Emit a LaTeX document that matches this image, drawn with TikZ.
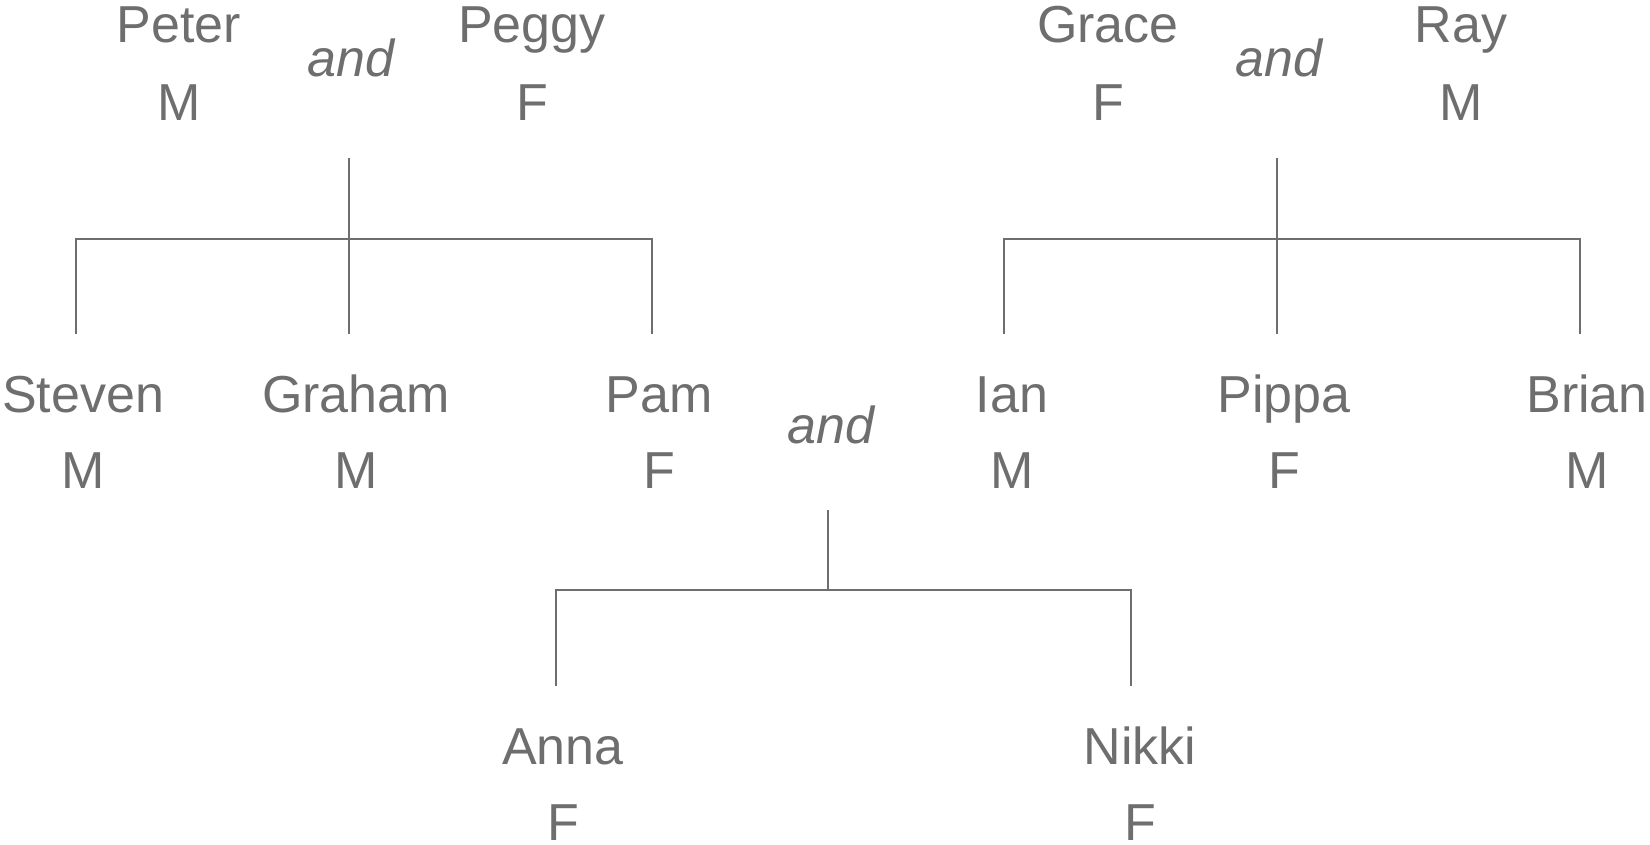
\documentclass[tikz,border=0pt]{standalone}
\usepackage{fontspec}
\setmainfont{Liberation Sans}
\definecolor{ink}{RGB}{110,110,110}
\begin{document}
\begin{tikzpicture}[x=1pt,y=-1pt,
  person/.style={anchor=base,inner sep=0pt,text=ink,font=\fontsize{52}{62}\selectfont},
  union/.style={anchor=base,inner sep=0pt,text=ink,font=\fontsize{52}{62}\selectfont\itshape},
  link/.style={draw=ink,line width=1.8pt}]
\useasboundingbox (0,0) rectangle (1650,845);

% first generation
\node[person] (peter)  at (179,43)  {Peter};
\node[person] (peterS) at (179,121) {M};
\node[union]  (and1)   at (351,77)  {and};
\node[person] (peggy)  at (532,43)  {Peggy};
\node[person] (peggyS) at (532,121) {F};

\node[person] (grace)  at (1108,43)  {Grace};
\node[person] (graceS) at (1108,121) {F};
\node[union]  (and2)   at (1279,77)  {and};
\node[person] (ray)    at (1461,43)  {Ray};
\node[person] (rayS)   at (1461,121) {M};

% second generation
\node[person] (steven)  at (83,412)  {Steven};
\node[person] (stevenS) at (83,488)  {M};
\node[person] (graham)  at (356,412) {Graham};
\node[person] (grahamS) at (356,488) {M};
\node[person] (pam)     at (659,412) {Pam};
\node[person] (pamS)    at (659,488) {F};
\node[union]  (and3)    at (831,443) {and};
\node[person] (ian)     at (1012,412) {Ian};
\node[person] (ianS)    at (1012,488) {M};
\node[person] (pippa)   at (1284,412) {Pippa};
\node[person] (pippaS)  at (1284,488) {F};
\node[person] (brian)   at (1587,412) {Brian};
\node[person] (brianS)  at (1587,488) {M};

% third generation
\node[person] (anna)   at (563,764)  {Anna};
\node[person] (annaS)  at (563,840)  {F};
\node[person] (nikki)  at (1140,764) {Nikki};
\node[person] (nikkiS) at (1140,840) {F};

% junction points of the family brackets
\coordinate (u1) at (349,158);  \coordinate (b1) at (349,239);
\coordinate (c1a) at (76,334);  \coordinate (c1b) at (349,334); \coordinate (c1c) at (652,334);
\coordinate (u2) at (1277,158); \coordinate (b2) at (1277,239);
\coordinate (c2a) at (1004,334); \coordinate (c2b) at (1277,334); \coordinate (c2c) at (1580,334);
\coordinate (u3) at (828,510);  \coordinate (b3) at (828,590);
\coordinate (c3a) at (556,686); \coordinate (c3b) at (1131,686);

% Peter and Peggy's children
\draw[link] (u1) -- (c1b);
\draw[link] (c1a) |- (b1) -| (c1c);
% Grace and Ray's children
\draw[link] (u2) -- (c2b);
\draw[link] (c2a) |- (b2) -| (c2c);
% Pam and Ian's children
\draw[link] (u3) -- (b3);
\draw[link] (c3a) |- (b3) -| (c3b);
\end{tikzpicture}
\end{document}
